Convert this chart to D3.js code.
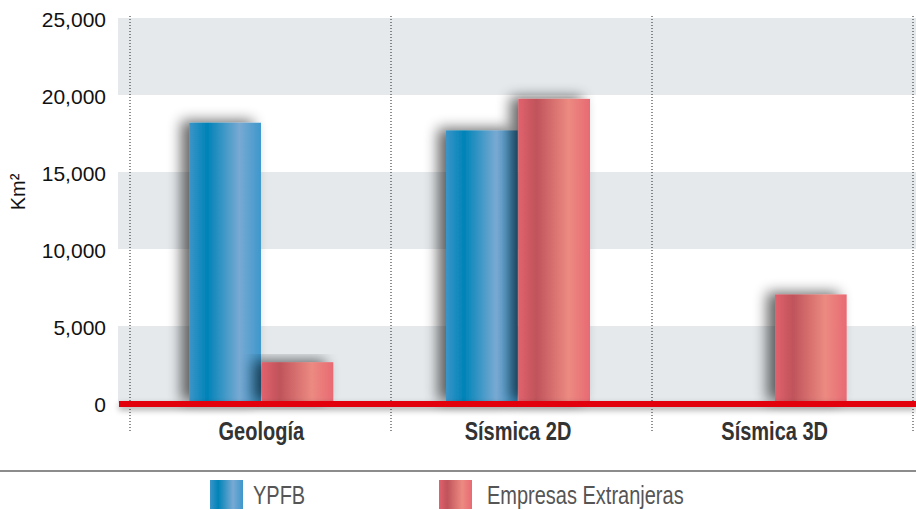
<!DOCTYPE html>
<html>
<head>
<meta charset="utf-8">
<script src="https://cdn.jsdelivr.net/npm/d3@7"></script>
<style>
  body { margin: 0; background: #fff; }
  svg { display: block; }
</style>
</head>
<body>
<div id="chart"></div>
<script>
var categories = ["Geología", "Sísmica 2D", "Sísmica 3D"];
var seriesNames = ["YPFB", "Empresas Extranjeras"];
var ypfbValues = [18200, 17700, 0];
var extranjerasValues = [2650, 19750, 7050];
var yTicks = [0, 5000, 10000, 15000, 20000, 25000];

var width = 916, height = 510;
var plotLeft = 130, plotRight = 913, bandLeft = 118;

var svg = d3.select("#chart").append("svg")
    .attr("width", width)
    .attr("height", height);

var defs = svg.append("defs");

// cylinder-ish gradients for the bars
function gradient(id, stops) {
  var g = defs.append("linearGradient").attr("id", id)
      .attr("x1", "0%").attr("x2", "100%").attr("y1", "0%").attr("y2", "0%");
  stops.forEach(function (s) {
    g.append("stop").attr("offset", s[0]).attr("stop-color", s[1]);
  });
}
gradient("gBlue", [["0%", "#3b95c8"], ["25%", "#0083b8"], ["70%", "#78aad3"], ["100%", "#3d97cc"]]);
gradient("gRed", [["0%", "#e1626d"], ["25%", "#c0535b"], ["70%", "#ec8a81"], ["100%", "#e86a73"]]);

var shadow = defs.append("filter").attr("id", "shadow")
    .attr("x", "-50%").attr("y", "-20%").attr("width", "200%").attr("height", "140%");
shadow.append("feGaussianBlur").attr("in", "SourceAlpha").attr("stdDeviation", 7).attr("result", "blur");
shadow.append("feOffset").attr("in", "blur").attr("dx", -8).attr("dy", -2).attr("result", "off");
shadow.append("feComponentTransfer").attr("in", "off").attr("result", "soft")
  .append("feFuncA").attr("type", "linear").attr("slope", 0.6);
var merge = shadow.append("feMerge");
merge.append("feMergeNode").attr("in", "soft");
merge.append("feMergeNode").attr("in", "SourceGraphic");

var lineShadow = defs.append("filter").attr("id", "lineShadow")
    .attr("x", "-5%").attr("y", "-300%").attr("width", "110%").attr("height", "700%");
lineShadow.append("feGaussianBlur").attr("in", "SourceAlpha").attr("stdDeviation", 3).attr("result", "blur");
lineShadow.append("feOffset").attr("in", "blur").attr("dy", 3).attr("result", "off");
lineShadow.append("feComponentTransfer").attr("in", "off").attr("result", "soft")
  .append("feFuncA").attr("type", "linear").attr("slope", 0.35);
var merge2 = lineShadow.append("feMerge");
merge2.append("feMergeNode").attr("in", "soft");
merge2.append("feMergeNode").attr("in", "SourceGraphic");

var y = d3.scaleLinear().domain([0, 25000]).range([403, 18]);
// grid columns (dotted separators) and the slightly tighter bar placement
var xGrid = d3.scaleBand().domain(categories).range([plotLeft, plotRight]);
var x0 = d3.scaleBand().domain(categories).range([133, 903]);
var x1 = d3.scaleBand().domain(seriesNames).range([-72, 72]).paddingInner(0.01);

var fills = { "YPFB": "url(#gBlue)", "Empresas Extranjeras": "url(#gRed)" };

// alternating background bands
var bands = d3.range(0, yTicks.length - 1).filter(function (i) { return i % 2 === 0; });
svg.append("g").selectAll("rect")
  .data(bands)
  .enter().append("rect")
    .attr("x", bandLeft)
    .attr("width", width - bandLeft)
    .attr("y", function (i) { return y(yTicks[i + 1]); })
    .attr("height", function (i) { return y(yTicks[i]) - y(yTicks[i + 1]); })
    .attr("fill", "#e5e9ec");

// dotted separators
var seps = [plotLeft].concat(categories.map(function (c) { return xGrid(c) + xGrid.bandwidth(); }));
svg.append("g").selectAll("line")
  .data(seps)
  .enter().append("line")
    .attr("x1", function (d) { return d; })
    .attr("x2", function (d) { return d; })
    .attr("y1", 16)
    .attr("y2", 432)
    .attr("stroke", "#222")
    .attr("stroke-width", 1)
    .attr("stroke-dasharray", "1,2");

// y axis labels
svg.append("g").selectAll("text")
  .data(yTicks)
  .enter().append("text")
    .attr("x", 106)
    .attr("y", function (d) { return y(d) + 2; })
    .attr("dy", "0.35em")
    .attr("text-anchor", "end")
    .attr("font-family", "Liberation Sans, Arial, sans-serif")
    .attr("font-size", "21px")
    .attr("fill", "#111")
    .text(d3.format(","));

svg.append("text")
  .attr("transform", "translate(25,192) rotate(-90)")
  .attr("text-anchor", "middle")
  .attr("font-family", "Liberation Sans, Arial, sans-serif")
  .attr("font-size", "20px")
  .attr("fill", "#111")
  .text("Km²");

// bars
var rows = categories.map(function (c, i) {
  return { cat: c, values: [
    { key: seriesNames[0], value: ypfbValues[i] },
    { key: seriesNames[1], value: extranjerasValues[i] }
  ] };
});

var groups = svg.append("g").selectAll("g")
  .data(rows)
  .enter().append("g")
    .attr("transform", function (d) { return "translate(" + (x0(d.cat) + x0.bandwidth() / 2) + ",0)"; });

groups.selectAll("rect")
  .data(function (d) { return d.values.filter(function (v) { return v.value > 0; }); })
  .enter().append("rect")
    .attr("x", function (d) { return x1(d.key); })
    .attr("width", x1.bandwidth())
    .attr("y", function (d) { return y(d.value); })
    .attr("height", function (d) { return y(0) - y(d.value); })
    .attr("fill", function (d) { return fills[d.key]; })
    .attr("filter", "url(#shadow)");

// red zero line
svg.append("rect")
  .attr("x", bandLeft + 1)
  .attr("width", width - bandLeft - 1)
  .attr("y", y(0) - 2)
  .attr("height", 6)
  .attr("fill", "#e3000f")
  .attr("filter", "url(#lineShadow)");

// category labels
svg.append("g").selectAll("text")
  .data(categories)
  .enter().append("text")
    .attr("transform", function (d) { return "translate(" + (x0(d) + x0.bandwidth() / 2) + ",440) scale(0.8,1)"; })
    .attr("text-anchor", "middle")
    .attr("font-family", "Liberation Sans, Arial, sans-serif")
    .attr("font-weight", "bold")
    .attr("font-size", "25px")
    .attr("fill", "#333")
    .text(function (d) { return d; });

// legend
svg.append("line")
  .attr("x1", 0).attr("x2", width)
  .attr("y1", 471).attr("y2", 471)
  .attr("stroke", "#666")
  .attr("stroke-width", 1.5);

var legendX = [210, 439];
var legend = svg.append("g").selectAll("g")
  .data(seriesNames)
  .enter().append("g")
    .attr("transform", function (d, i) { return "translate(" + legendX[i] + ",480)"; });

legend.append("rect")
  .attr("width", 33)
  .attr("height", 29)
  .attr("fill", function (d) { return fills[d]; });

legend.append("text")
  .attr("transform", function (d, i) { return "translate(" + (i === 0 ? 43 : 48) + ",24) scale(0.8,1)"; })
  .attr("font-family", "Liberation Sans, Arial, sans-serif")
  .attr("font-size", "25px")
  .attr("fill", "#555")
  .text(function (d) { return d; });
</script>
</body>
</html>
